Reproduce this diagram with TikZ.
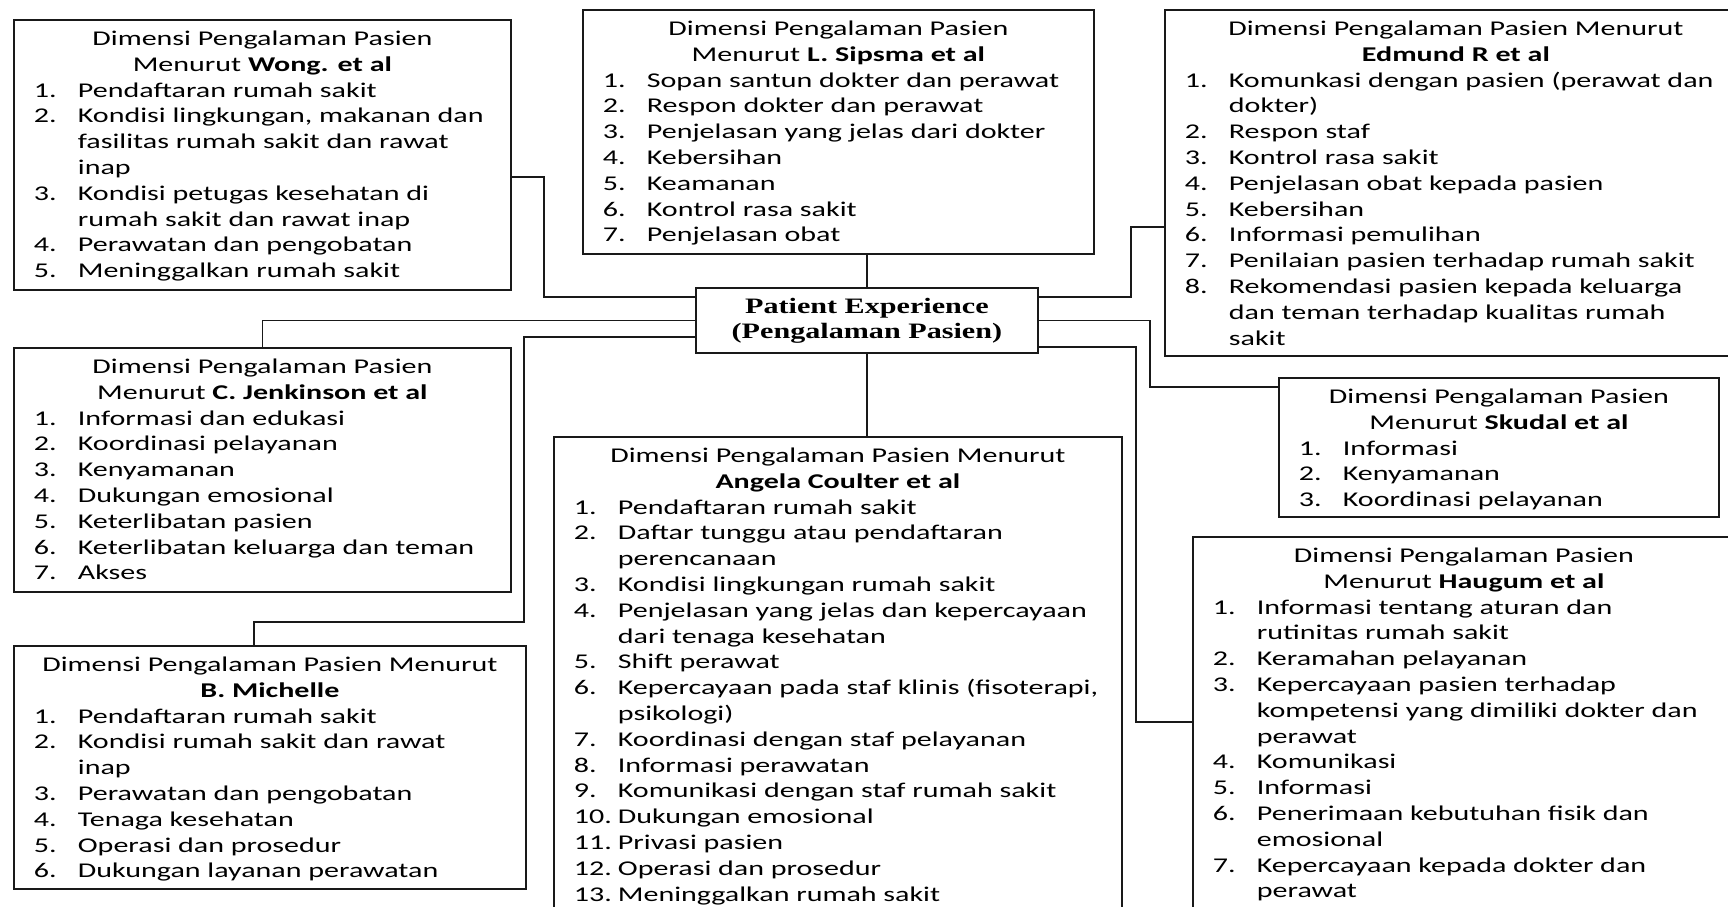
\documentclass[tikz,border=0pt]{standalone}
\usepackage{fontspec}
\setmainfont{Carlito}[FakeStretch=1.43]
\newfontfamily\pefont{Liberation Serif}[FakeStretch=1.37]

\newcommand{\isi}[3]{\vbox to #2{\hsize=#1\relax\vskip3.8pt#3\vfil}}
\newcommand{\judul}[1]{\hbox to\hsize{\strut\hss#1\hss}}
\newcommand{\butir}[2]{\hbox{\strut\hskip10pt\relax\hbox to22pt{#1\hfil}#2}}
\newcommand{\lanjut}[1]{\hbox{\strut\hskip32pt\relax#1}}

\begin{document}
\begin{tikzpicture}[x=0.5pt,y=-0.5pt,
  kotak/.style={draw=black!90,line width=0.9pt,inner sep=0pt,anchor=north west,
    font=\fontsize{10.5}{12.9}\selectfont},
  garis/.style={draw=black!90,line width=0.9pt}]
\useasboundingbox (0,0) rectangle (1728,906);
\fill[white] (0,0) rectangle (1728,906);
\clip (0,0) rectangle (1728,906);

\node[kotak,font=\pefont\bfseries\fontsize{11}{12.5}\selectfont] (pe) at (695,287)
  {\isi{171pt}{32.5pt}{\judul{Patient Experience}\judul{(Pengalaman Pasien)}}};

\node[kotak] (wong) at (13,19) {\isi{248.5pt}{135pt}{%
  \judul{Dimensi Pengalaman Pasien}
  \judul{Menurut \textbf{Wong. et al}}
  \butir{1.}{Pendaftaran rumah sakit}
  \butir{2.}{Kondisi lingkungan, makanan dan}
  \lanjut{fasilitas rumah sakit dan rawat}
  \lanjut{inap}
  \butir{3.}{Kondisi petugas kesehatan di}
  \lanjut{rumah sakit dan rawat inap}
  \butir{4.}{Perawatan dan pengobatan}
  \butir{5.}{Meninggalkan rumah sakit}}};

\node[kotak] (sipsma) at (582,9) {\isi{255.5pt}{122pt}{%
  \judul{Dimensi Pengalaman Pasien}
  \judul{Menurut \textbf{L. Sipsma et al}}
  \butir{1.}{Sopan santun dokter dan perawat}
  \butir{2.}{Respon dokter dan perawat}
  \butir{3.}{Penjelasan yang jelas dari dokter}
  \butir{4.}{Kebersihan}
  \butir{5.}{Keamanan}
  \butir{6.}{Kontrol rasa sakit}
  \butir{7.}{Penjelasan obat}}};

\node[kotak] (edmund) at (1164,9) {\isi{291pt}{173pt}{%
  \judul{Dimensi Pengalaman Pasien Menurut}
  \judul{\textbf{Edmund R et al}}
  \butir{1.}{Komunkasi dengan pasien (perawat dan}
  \lanjut{dokter)}
  \butir{2.}{Respon staf}
  \butir{3.}{Kontrol rasa sakit}
  \butir{4.}{Penjelasan obat kepada pasien}
  \butir{5.}{Kebersihan}
  \butir{6.}{Informasi pemulihan}
  \butir{7.}{Penilaian pasien terhadap rumah sakit}
  \butir{8.}{Rekomendasi pasien kepada keluarga}
  \lanjut{dan teman terhadap kualitas rumah}
  \lanjut{sakit}}};

\node[kotak] (jenkinson) at (13,347) {\isi{248.5pt}{122pt}{%
  \judul{Dimensi Pengalaman Pasien}
  \judul{Menurut \textbf{C. Jenkinson et al}}
  \butir{1.}{Informasi dan edukasi}
  \butir{2.}{Koordinasi pelayanan}
  \butir{3.}{Kenyamanan}
  \butir{4.}{Dukungan emosional}
  \butir{5.}{Keterlibatan pasien}
  \butir{6.}{Keterlibatan keluarga dan teman}
  \butir{7.}{Akses}}};

\node[kotak] (skudal) at (1278,377) {\isi{220pt}{69.5pt}{%
  \judul{Dimensi Pengalaman Pasien}
  \judul{Menurut \textbf{Skudal et al}}
  \butir{1.}{Informasi}
  \butir{2.}{Kenyamanan}
  \butir{3.}{Koordinasi pelayanan}}};

\node[kotak] (coulter) at (553,436) {\isi{284pt}{250pt}{%
  \judul{Dimensi Pengalaman Pasien Menurut}
  \judul{\textbf{Angela Coulter et al}}
  \butir{1.}{Pendaftaran rumah sakit}
  \butir{2.}{Daftar tunggu atau pendaftaran}
  \lanjut{perencanaan}
  \butir{3.}{Kondisi lingkungan rumah sakit}
  \butir{4.}{Penjelasan yang jelas dan kepercayaan}
  \lanjut{dari tenaga kesehatan}
  \butir{5.}{Shift perawat}
  \butir{6.}{Kepercayaan pada staf klinis (fisoterapi,}
  \lanjut{psikologi)}
  \butir{7.}{Koordinasi dengan staf pelayanan}
  \butir{8.}{Informasi perawatan}
  \butir{9.}{Komunikasi dengan staf rumah sakit}
  \butir{10.}{Dukungan emosional}
  \butir{11.}{Privasi pasien}
  \butir{12.}{Operasi dan prosedur}
  \butir{13.}{Meninggalkan rumah sakit}}};

\node[kotak] (michelle) at (13,645) {\isi{256pt}{121.5pt}{%
  \judul{Dimensi Pengalaman Pasien Menurut}
  \judul{\textbf{B. Michelle}}
  \butir{1.}{Pendaftaran rumah sakit}
  \butir{2.}{Kondisi rumah sakit dan rawat}
  \lanjut{inap}
  \butir{3.}{Perawatan dan pengobatan}
  \butir{4.}{Tenaga kesehatan}
  \butir{5.}{Operasi dan prosedur}
  \butir{6.}{Dukungan layanan perawatan}}};

\node[kotak] (haugum) at (1192,536) {\isi{271pt}{200pt}{%
  \judul{Dimensi Pengalaman Pasien}
  \judul{Menurut \textbf{Haugum et al}}
  \butir{1.}{Informasi tentang aturan dan}
  \lanjut{rutinitas rumah sakit}
  \butir{2.}{Keramahan pelayanan}
  \butir{3.}{Kepercayaan pasien terhadap}
  \lanjut{kompetensi yang dimiliki dokter dan}
  \lanjut{perawat}
  \butir{4.}{Komunikasi}
  \butir{5.}{Informasi}
  \butir{6.}{Penerimaan kebutuhan fisik dan}
  \lanjut{emosional}
  \butir{7.}{Kepercayaan kepada dokter dan}
  \lanjut{perawat}}};

\draw[garis] (wong.east |- 0,177) -- (544,177) |- (pe.west |- 0,297);
\draw[garis] (pe.west) -| (jenkinson.north);
\draw[garis] (pe.west |- 0,337) -| (524,622) -| (michelle.north -| 254,0);
\draw[garis] (pe.north) -- (pe.north |- sipsma.south);
\draw[garis] (pe.south) -- (pe.south |- coulter.north);
\draw[garis] (pe.east |- 0,297) -| (1131,227) -- (edmund.west |- 0,227);
\draw[garis] (pe.east) -| (1150,387) -- (skudal.west |- 0,387);
\draw[garis] (pe.east |- 0,347) -| (1136,722) -- (haugum.west |- 0,722);
\end{tikzpicture}
\end{document}
